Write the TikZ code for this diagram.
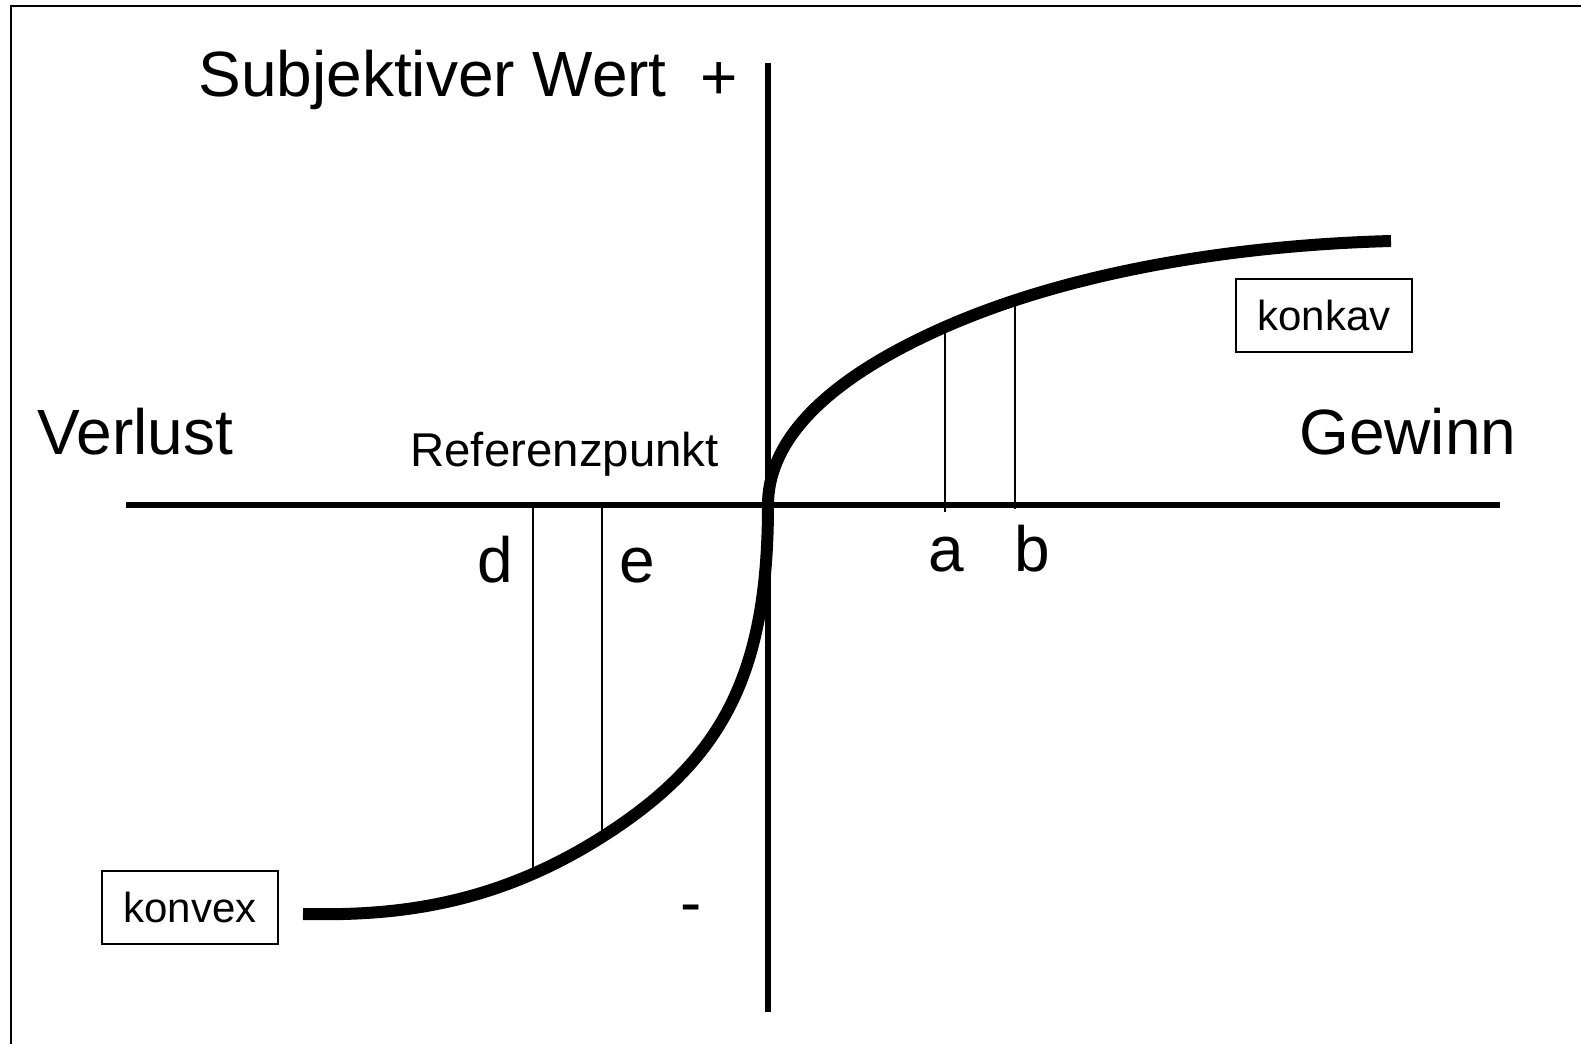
\documentclass[tikz,border=0pt]{standalone}
\usepackage{fontspec}
\setmainfont{Liberation Sans}
\usetikzlibrary{calc}

\tikzset{
	achse/.style={line width=2.6pt},
	kurve/.style={line width=6pt, line cap=butt},
	hilfslinie/.style={line width=0.9pt},
	gross/.style={font=\fontsize{32}{38}\selectfont, inner sep=0pt, anchor=base west},
	mittel/.style={font=\fontsize{23.7}{28}\selectfont, inner sep=0pt, anchor=base west},
	kasten/.style={draw, line width=0.8pt, font=\fontsize{21}{25}\selectfont, minimum width=88pt, minimum height=36.5pt, inner sep=0pt}
}

\begin{document}
\begin{tikzpicture}[x=0.5pt, y=-0.5pt] % Pixelkoordinaten, y nach unten
		\useasboundingbox (0,0) rectangle (1581,1044);
		\draw[line width=1pt] (11,1044) -- (11,6) -- (1581,6);
		% Achsen
		\coordinate (O) at (768,505);
		\coordinate (xl) at (126,505);
		\coordinate (xr) at (1500,505);
		\coordinate (yt) at (768,63);
		\coordinate (yb) at (768,1012);
		\draw[achse] (xl) -- (xr);
		\draw[achse] (yt) -- (yb);
		% Wertfunktion
		\coordinate (Vend) at (303,914);
		\coordinate (E) at (602,837);
		\coordinate (A) at (945,327);
		\coordinate (Gend) at (1391,241);
		\draw[kurve] (Vend) .. controls (393,916) and (492,906.6) .. (E)
			.. controls (722,761) and (768,675) .. (O)
			.. controls (768,430) and (845,371) .. (A)
			.. controls (1075,269.8) and (1241,245) .. (Gend);
		% Hilfslinien
		\coordinate (d0) at (533,505);
		\coordinate (d1) at (533,874);
		\coordinate (e0) at (602,505);
		\coordinate (e1) at (602,843);
		\coordinate (a0) at (945,512);
		\coordinate (a1) at (945,330);
		\coordinate (b0) at (1015,509);
		\coordinate (b1) at (1015,302);
		\foreach \p in {d,e,a,b}
		\draw[hilfslinie] (\p0) -- (\p1);
		% Beschriftung
		\node[gross] (swert) at (198,96) {Subjektiver Wert};
		\node[gross] (plus) at (700,99) {+};
		\node[gross] (verlust) at (37,454) {Verlust};
		\node[gross] (gewinn) at (1299,454) {Gewinn};
		\node[mittel] (refpkt) at (410,466) {Referenzpunkt};
		\node[gross] (ld) at (477,582) {d};
		\node[gross] (le) at (619,582) {e};
		\node[gross] (la) at (928,571) {a};
		\node[gross] (lb) at (1014,571) {b};
		\node[gross] (minus) at (680,924) {-};
		\node[kasten] (konkav) at (1324,315.5) {konkav};
		\node[kasten] (konvex) at (190,907.5) {konvex};
	\end{tikzpicture}
\end{document}
